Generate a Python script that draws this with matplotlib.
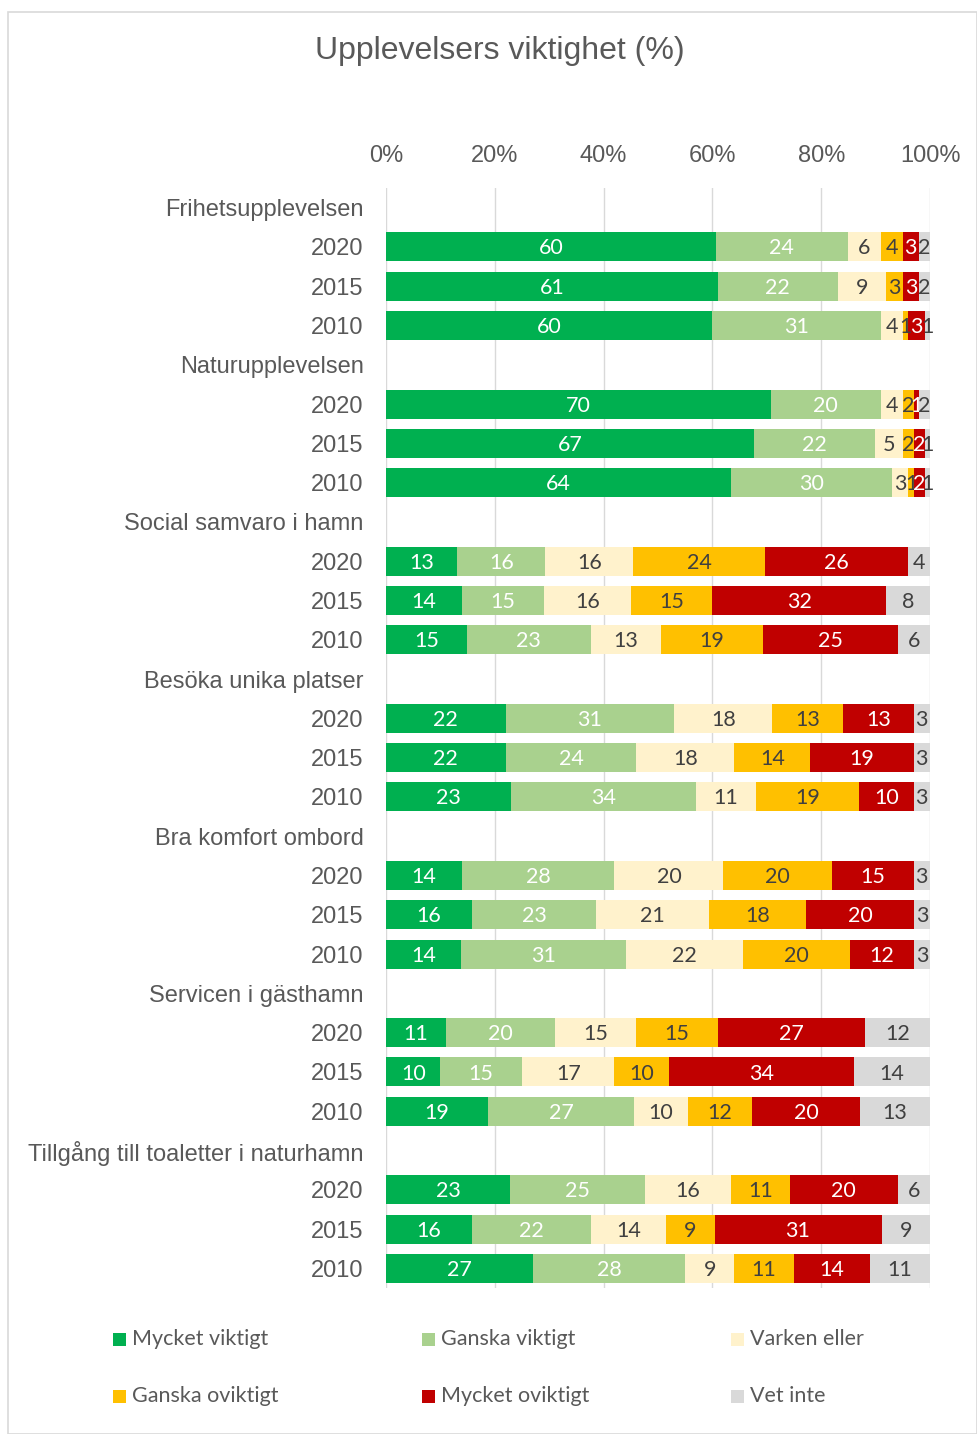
import numpy as np
import matplotlib
matplotlib.use("Agg")
import matplotlib.pyplot as plt
from matplotlib.patches import Rectangle

groups = ["Frihetsupplevelsen", "Naturupplevelsen", "Social samvaro i hamn",
          "Besöka unika platser", "Bra komfort ombord", "Servicen i gästhamn",
          "Tillgång till toaletter i naturhamn"]
years = ["2020", "2015", "2010"]
series = ["Mycket viktigt", "Ganska viktigt", "Varken eller",
          "Ganska oviktigt", "Mycket oviktigt", "Vet inte"]
colors = ["#00B050", "#A9D18E", "#FFF2CC", "#FFC000", "#C00000", "#D9D9D9"]
label_colors = ["white", "white", "#404040", "#404040", "white", "#404040"]

# values per group, per year (2020, 2015, 2010), per series
frihet = [[60, 24, 6, 4, 3, 2], [61, 22, 9, 3, 3, 2], [60, 31, 4, 1, 3, 1]]
natur = [[70, 20, 4, 2, 1, 2], [67, 22, 5, 2, 2, 1], [64, 30, 3, 1, 2, 1]]
social = [[13, 16, 16, 24, 26, 4], [14, 15, 16, 15, 32, 8], [15, 23, 13, 19, 25, 6]]
besoka = [[22, 31, 18, 13, 13, 3], [22, 24, 18, 14, 19, 3], [23, 34, 11, 19, 10, 3]]
komfort = [[14, 28, 20, 20, 15, 3], [16, 23, 21, 18, 20, 3], [14, 31, 22, 20, 12, 3]]
service = [[11, 20, 15, 15, 27, 12], [10, 15, 17, 10, 34, 14], [19, 27, 10, 12, 20, 13]]
toalett = [[23, 25, 16, 11, 20, 6], [16, 22, 14, 9, 31, 9], [27, 28, 9, 11, 14, 11]]
all_values = [frihet, natur, social, besoka, komfort, service, toalett]

W, H = 978, 1434
fig = plt.figure(figsize=(W / 100, H / 100), dpi=100)

# chart border
fig.patches.append(Rectangle((8 / W, 0), 1 - 8 / W - 0.001, 1 - 12 / H,
                             transform=fig.transFigure, fill=False,
                             edgecolor="#D9D9D9", linewidth=1.2))

ax = fig.add_axes([386 / W, 1 - 1288 / H, 544 / W, 1100 / H])

ylabels = []
rows = []
r = 0
for g, vals in zip(groups, all_values):
    ylabels.append(g)
    r += 1
    for y, v in zip(years, vals):
        ylabels.append(y)
        rows.append((r, v))
        r += 1

bar_h = 0.74
for pos, v in rows:
    v = np.array(v, dtype=float)
    share = v / v.sum() * 100
    left = 0.0
    for i, (s, raw) in enumerate(zip(share, v)):
        ax.barh(pos, s, left=left, height=bar_h, color=colors[i], edgecolor="none", zorder=2)
        ax.text(left + s / 2, pos + 0.04, f"{int(raw)}", ha="center", va="center",
                fontsize=15.5, color=label_colors[i], family="Lato", zorder=3)
        left += s

ax.set_xlim(0, 100)
ax.set_ylim(len(ylabels) - 0.5, -0.5)
ax.set_yticks(range(len(ylabels)))
ax.set_yticklabels(ylabels, fontsize=17, color="#595959", family="Liberation Sans")
ax.set_xticks([0, 20, 40, 60, 80, 100])
ax.set_xticklabels(["0%", "20%", "40%", "60%", "80%", "100%"], fontsize=17,
                   color="#595959", family="Liberation Sans")
ax.xaxis.tick_top()
ax.tick_params(axis="x", length=0, pad=15)
ax.tick_params(axis="y", length=0, pad=16)
ax.grid(axis="x", color="#D9D9D9", linewidth=1, zorder=0)
ax.set_axisbelow(True)
for sp in ax.spines.values():
    sp.set_visible(False)

fig.text(500 / W, 1 - 51 / H, "Upplevelsers viktighet (%)", ha="center", va="center",
         fontsize=23, color="#595959", family="Liberation Sans")

# legend (row-major, 3 columns)
col_x = [113, 422, 731]
row_y = [1339, 1396]
for i, (name, c) in enumerate(zip(series, colors)):
    x = col_x[i % 3]
    y = row_y[i // 3]
    sq = 13
    fig.patches.append(Rectangle((x / W, (H - y - sq / 2) / H), sq / W, sq / H,
                                 transform=fig.transFigure, facecolor=c, edgecolor="none"))
    fig.text((x + sq + 6) / W, 1 - y / H, name, ha="left", va="center",
             fontsize=15.5, color="#595959", family="Lato")

fig.savefig("out.png", dpi=100)
